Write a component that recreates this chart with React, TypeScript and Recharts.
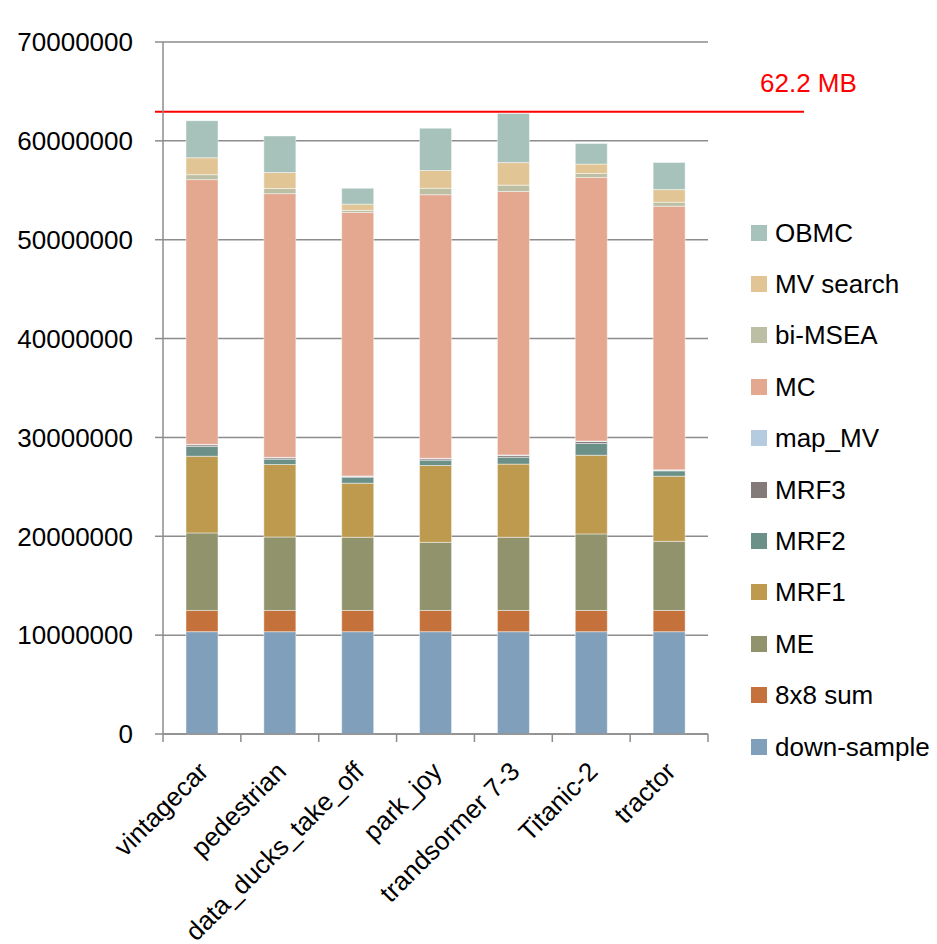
import React from "react";
import { BarChart, Bar, XAxis, YAxis, CartesianGrid, ReferenceLine, Legend } from "recharts";

const CATEGORIES = [
  "vintagecar",
  "pedestrian",
  "data_ducks_take_off",
  "park_joy",
  "trandsormer 7-3",
  "Titanic-2",
  "tractor",
];

// bytes per stage (bottom of the stack first)
const DOWN_SAMPLE = [10350000, 10350000, 10350000, 10350000, 10350000, 10350000, 10350000];
const SUM_8X8 = [2150000, 2150000, 2150000, 2150000, 2150000, 2150000, 2150000];
const ME = [7840000, 7430000, 7400000, 6890000, 7400000, 7740000, 6990000];
const MRF1 = [7760000, 7330000, 5470000, 7770000, 7400000, 7960000, 6590000];
const MRF2 = [980000, 540000, 610000, 540000, 700000, 1190000, 540000];
const MRF3 = [170000, 140000, 70000, 140000, 180000, 200000, 50000];
const MAP_MV = [50000, 50000, 50000, 50000, 50000, 50000, 50000];
const MC = [26780000, 26670000, 26660000, 26660000, 26650000, 26660000, 26670000];
const BI_MSEA = [500000, 520000, 210000, 650000, 640000, 400000, 400000];
const MV_SEARCH = [1710000, 1620000, 630000, 1800000, 2280000, 950000, 1280000];
const OBMC = [3750000, 3700000, 1600000, 4280000, 4960000, 2080000, 2750000];

const Y_TICKS = [0, 10000000, 20000000, 30000000, 40000000, 50000000, 60000000, 70000000];
const LIMIT = 62950000;
const LIMIT_LABEL = "62.2 MB";

const SERIES = [
  { key: "down-sample", values: DOWN_SAMPLE, color: "#809fba" },
  { key: "8x8 sum", values: SUM_8X8, color: "#c5713b" },
  { key: "ME", values: ME, color: "#91936d" },
  { key: "MRF1", values: MRF1, color: "#be9a4f" },
  { key: "MRF2", values: MRF2, color: "#6a9088" },
  { key: "MRF3", values: MRF3, color: "#857a7a" },
  { key: "map_MV", values: MAP_MV, color: "#b4cbe0" },
  { key: "MC", values: MC, color: "#e4a78f" },
  { key: "bi-MSEA", values: BI_MSEA, color: "#bdbfa5" },
  { key: "MV search", values: MV_SEARCH, color: "#e2c594" },
  { key: "OBMC", values: OBMC, color: "#a7c2ba" },
];

const data = CATEGORIES.map((name, i) => {
  const row: Record<string, string | number> = { name };
  SERIES.forEach((s) => (row[s.key] = s.values[i]));
  return row;
});

const FONT = '"Liberation Sans", Arial, sans-serif';
const GRID = "#8c8c8c";

// Excel-style: tick marks sit between categories, labels slanted 45°
function CategoryTick(props: any) {
  const { x, y, payload, index, width, visibleTicksCount } = props;
  const band = (width || 545) / (visibleTicksCount || CATEGORIES.length);
  const tx = x + 8;
  const ty = y + 31;
  return (
    <g>
      <line x1={x - band / 2} x2={x - band / 2} y1={y - 8} y2={y} stroke={GRID} strokeWidth={1.5} />
      {index === CATEGORIES.length - 1 && (
        <line x1={x + band / 2} x2={x + band / 2} y1={y - 8} y2={y} stroke={GRID} strokeWidth={1.5} />
      )}
      <text
        x={tx}
        y={ty}
        transform={`rotate(-45, ${tx}, ${ty})`}
        textAnchor="end"
        fontSize={26}
        fontFamily={FONT}
        fill="#000"
      >
        {payload.value}
      </text>
    </g>
  );
}

function LimitLine(props: any) {
  const { x1, x2, y1 } = props;
  return (
    <g>
      <line x1={x1 - 8} x2={x2 + 96} y1={y1} y2={y1} stroke="#ff0000" strokeWidth={2} />
      <text x={x2 + 52} y={y1 - 20} fontSize={26} fontFamily={FONT} fill="#ff0000">
        {LIMIT_LABEL}
      </text>
    </g>
  );
}

// top of the stack is listed first, like the original
function StageLegend() {
  const items = [...SERIES].reverse();
  return (
    <div style={{ fontFamily: FONT, fontSize: 26, color: "#000" }}>
      {items.map((it) => (
        <div key={it.key} style={{ height: 51.4, display: "flex", alignItems: "center" }}>
          <span style={{ width: 16, height: 16, background: it.color, marginRight: 8, display: "inline-block" }} />
          <span style={{ lineHeight: "26px" }}>{it.key}</span>
        </div>
      ))}
    </div>
  );
}

export default function App() {
  return (
    <div style={{ position: "absolute", left: 0, top: 0, width: 937, height: 944, background: "#fff" }}>
      <BarChart
        width={937}
        height={944}
        data={data}
        margin={{ top: 42, right: 229, bottom: 0, left: 0 }}
        barSize={32}
      >
        <CartesianGrid vertical={false} stroke={GRID} strokeWidth={1.5} />
        <XAxis
          dataKey="name"
          height={210}
          interval={0}
          axisLine={{ stroke: GRID, strokeWidth: 1.5 }}
          tickLine={false}
          tickSize={8}
          tickMargin={0}
          tick={<CategoryTick />}
        />
        <YAxis
          width={163}
          domain={[0, 70000000]}
          ticks={Y_TICKS}
          interval={0}
          axisLine={{ stroke: GRID, strokeWidth: 1.5 }}
          tickLine={{ stroke: GRID, strokeWidth: 1.5 }}
          tickSize={8}
          tickMargin={22}
          tick={{ fontSize: 26, fontFamily: FONT, fill: "#000" }}
        />
        {SERIES.map((s) => (
          <Bar
            key={s.key}
            dataKey={s.key}
            name={s.key}
            stackId="mem"
            fill={s.color}
            stroke="#ffffff"
            strokeOpacity={0.45}
            strokeWidth={1}
            isAnimationActive={false}
          />
        ))}
        <ReferenceLine y={LIMIT} ifOverflow="visible" shape={<LimitLine />} />
        <Legend
          layout="vertical"
          align="center"
          verticalAlign="middle"
          wrapperStyle={{ left: 751, top: 207, width: 186 }}
          content={<StageLegend />}
        />
      </BarChart>
    </div>
  );
}
